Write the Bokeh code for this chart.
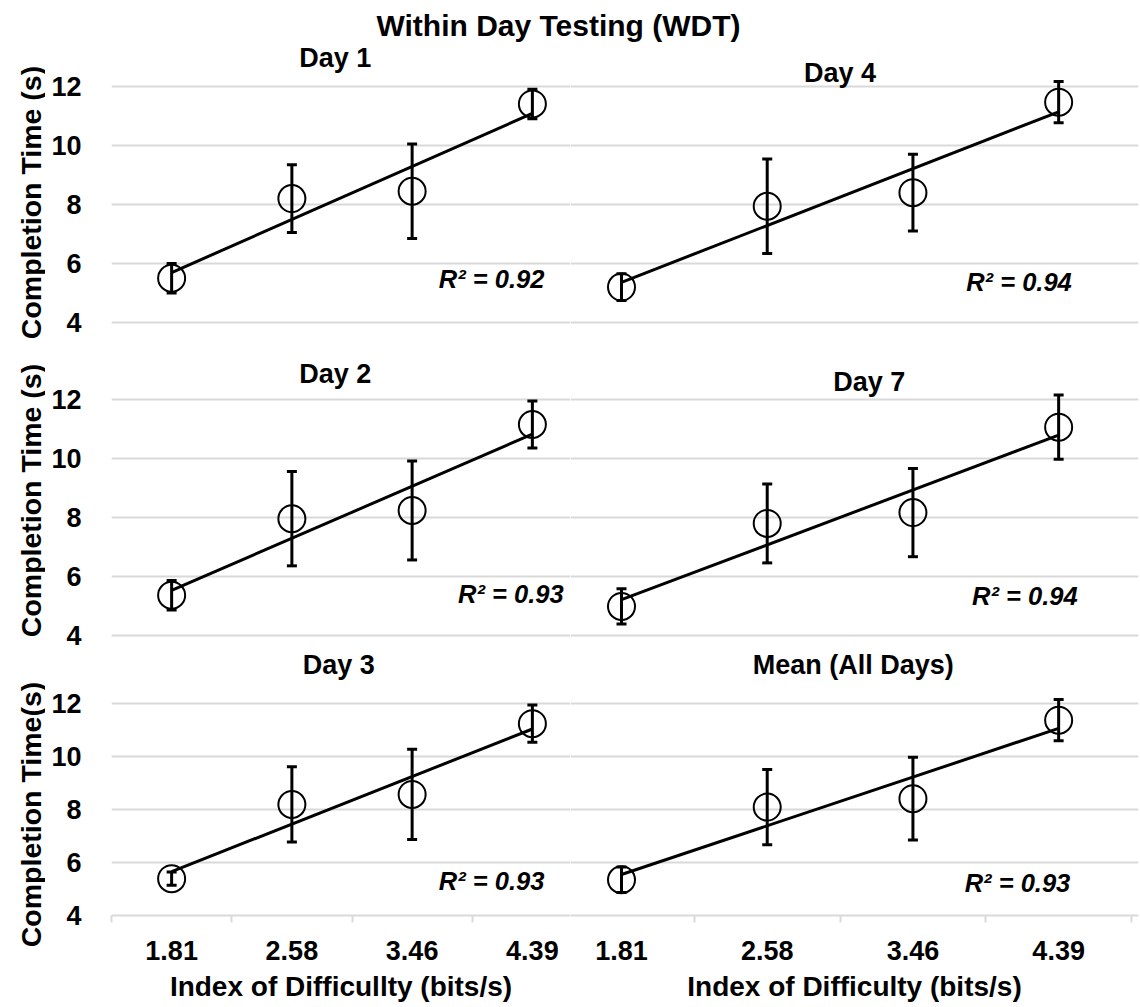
import numpy as np
from bokeh.plotting import figure
from bokeh.layouts import column, row
from bokeh.models import Range1d, FixedTicker, Label, Whisker, ColumnDataSource, TeeHead
from bokeh.embed import file_html
from bokeh.resources import INLINE

# ---------------- data ----------------
id_labels = ["1.81", "2.58", "3.46", "4.39"]
y_ticks = [4, 6, 8, 10, 12]

day1_mean = [5.50, 8.20, 8.45, 11.41]
day1_err = [0.50, 1.15, 1.60, 0.50]
day4_mean = [5.20, 7.94, 8.40, 11.47]
day4_err = [0.45, 1.60, 1.30, 0.70]
day2_mean = [5.35, 7.95, 8.23, 11.15]
day2_err = [0.50, 1.60, 1.68, 0.80]
day7_mean = [4.97, 7.79, 8.16, 11.06]
day7_err = [0.60, 1.34, 1.50, 1.09]
day3_mean = [5.39, 8.19, 8.57, 11.24]
day3_err = [0.25, 1.42, 1.70, 0.70]
all_mean = [5.35, 8.09, 8.41, 11.37]
all_err = [0.48, 1.42, 1.56, 0.78]

panel_titles = ["Day 1", "Day 4", "Day 2", "Day 7", "Day 3", "Mean (All Days)"]
r2_texts = ["R² = 0.92", "R² = 0.94", "R² = 0.93", "R² = 0.94", "R² = 0.93", "R² = 0.93"]
y_titles = ["Completion Time (s)", "Completion Time (s)", "Completion Time(s)"]
x_titles = ["Index of Difficullty (bits/s)", "Index of Difficulty (bits/s)"]
main_title = "Within Day Testing (WDT)"

# ---------------- style / layout ----------------
FONT = "Liberation Sans"
GRID = "#d9d9d9"
xs = np.arange(1, len(id_labels) + 1)
bounds = list(np.arange(0.5, len(id_labels) + 1, 1.0))

TITLE_H = 42
LAB_W = 45
ROWS = [
    dict(h=298, y0=3.390, y1=13.492, mb=0),
    dict(h=310, y0=3.474, y1=14.004, mb=0),
    dict(h=355, y0=4.0, y1=14.0, mb=90),
]
# y-title centres (pixels from the bottom of the label strip)
YLAB_Y = [803, 505, 191]
# label positions (data coords): title centre, R2 right edge
POS = {
    ("L", 0): dict(t=(2.36, 12.98), r=(4.10, 5.49)),
    ("R", 0): dict(t=(2.50, 12.47), r=(4.09, 5.39)),
    ("L", 1): dict(t=(2.36, 12.85), r=(4.26, 5.38)),
    ("R", 1): dict(t=(2.70, 12.61), r=(4.13, 5.31)),
    ("L", 2): dict(t=(2.39, 13.45), r=(4.10, 5.32)),
    ("R", 2): dict(t=(2.59, 13.45), r=(4.08, 5.21)),
}


def make_panel(side, r, mean, err, title, r2):
    cfg = ROWS[r]
    if side == "L":
        xr = Range1d(0.5, 4.317)
        w, mbl, mbr = 570 - LAB_W, 111 - LAB_W, 0
    else:
        xr = Range1d(0.65, 4.548)
        w, mbl, mbr = 570, 0, 2
    p = figure(width=w, height=cfg["h"], x_range=xr,
               y_range=Range1d(cfg["y0"], cfg["y1"]),
               toolbar_location=None, output_backend="svg", min_border=0)
    p.min_border_left = mbl
    p.min_border_right = mbr
    p.min_border_top = 0
    p.min_border_bottom = cfg["mb"]
    p.outline_line_color = None
    p.xgrid.visible = False
    p.ygrid.ticker = FixedTicker(ticks=y_ticks)
    p.ygrid.grid_line_color = GRID
    p.ygrid.grid_line_width = 2

    # y axis
    if side == "L":
        ya = p.yaxis[0]
        ya.ticker = FixedTicker(ticks=y_ticks)
        ya.axis_line_color = None
        ya.major_tick_line_color = None
        ya.minor_tick_line_color = None
        ya.major_label_standoff = 24
        ya.major_label_text_font = FONT
        ya.major_label_text_font_size = "27px"
        ya.major_label_text_font_style = "bold"
        ya.major_label_text_color = "black"
    else:
        p.yaxis.visible = False

    # x axis
    if r == 2:
        xa = p.xaxis[0]
        xa.ticker = FixedTicker(ticks=list(xs), minor_ticks=bounds)
        xa.major_label_overrides = {int(x): lab for x, lab in zip(xs, id_labels)}
        xa.axis_line_color = GRID
        xa.axis_line_width = 2
        xa.major_tick_line_color = None
        xa.minor_tick_line_color = GRID
        xa.minor_tick_line_width = 2
        xa.minor_tick_out = 7
        xa.minor_tick_in = 0
        xa.major_label_standoff = 18
        xa.major_label_text_font = FONT
        xa.major_label_text_font_size = "27px"
        xa.major_label_text_font_style = "bold"
        xa.major_label_text_color = "black"
        xa.axis_label = x_titles[0 if side == "L" else 1]
        xa.axis_label_standoff = 8
        xa.axis_label_text_font = FONT
        xa.axis_label_text_font_size = "28px"
        xa.axis_label_text_font_style = "bold"
        xa.axis_label_text_color = "black"
    else:
        p.xaxis.visible = False

    mean = np.asarray(mean)
    err = np.asarray(err)
    slope, icpt = np.polyfit(xs, mean, 1)
    xl = [xs[0], xs[-1]]
    p.line(xl, [icpt + slope * xl[0], icpt + slope * xl[1]], line_color="black", line_width=3)

    src = ColumnDataSource(dict(x=xs, y=mean, upper=mean + err, lower=mean - err))
    wh = Whisker(source=src, base="x", upper="upper", lower="lower",
                 line_color="black", line_width=3,
                 upper_head=TeeHead(size=10, line_width=3, line_color="black"),
                 lower_head=TeeHead(size=10, line_width=3, line_color="black"))
    p.add_layout(wh)
    p.scatter("x", "y", source=src, marker="circle", size=27, fill_color=None,
              line_color="black", line_width=2)

    pos = POS[(side, r)]
    p.add_layout(Label(x=pos["t"][0], y=pos["t"][1], text=title, text_align="center",
                       text_baseline="middle", text_font=FONT, text_font_size="27px",
                       text_font_style="bold", text_color="black"))
    p.add_layout(Label(x=pos["r"][0], y=pos["r"][1], text=r2, text_align="right",
                       text_baseline="middle", text_font=FONT, text_font_size="25.5px",
                       text_font_style="bold italic", text_color="black"))
    return p


def bare(fig):
    fig.axis.visible = False
    fig.grid.visible = False
    fig.outline_line_color = None
    return fig


# main title strip
tp = bare(figure(width=1140, height=TITLE_H, x_range=Range1d(0, 1140), y_range=Range1d(0, TITLE_H),
                 toolbar_location=None, output_backend="svg", min_border=0))
tp.add_layout(Label(x=558, y=17, text=main_title, text_align="center", text_baseline="middle",
                    text_font=FONT, text_font_size="30px", text_font_style="bold",
                    text_color="black"))

# y-title strip (left of the panels)
body_h = sum(c["h"] for c in ROWS)
lp = bare(figure(width=LAB_W, height=body_h, x_range=Range1d(0, LAB_W), y_range=Range1d(0, body_h),
                 toolbar_location=None, output_backend="svg", min_border=0))
for txt, yc in zip(y_titles, YLAB_Y):
    lp.add_layout(Label(x=30, y=yc, text=txt, angle=np.pi / 2, text_align="center",
                        text_baseline="middle", text_font=FONT, text_font_size="28.5px",
                        text_font_style="bold", text_color="black"))

series = [(day1_mean, day1_err), (day4_mean, day4_err),
          (day2_mean, day2_err), (day7_mean, day7_err),
          (day3_mean, day3_err), (all_mean, all_err)]

rows_out = []
for r in range(3):
    lm, le = series[2 * r]
    rm, re_ = series[2 * r + 1]
    pl = make_panel("L", r, lm, le, panel_titles[2 * r], r2_texts[2 * r])
    pr = make_panel("R", r, rm, re_, panel_titles[2 * r + 1], r2_texts[2 * r + 1])
    rows_out.append(row(pl, pr))

layout = column(tp, row(lp, column(*rows_out)))
open("out.html", "w").write(file_html(layout, INLINE))
